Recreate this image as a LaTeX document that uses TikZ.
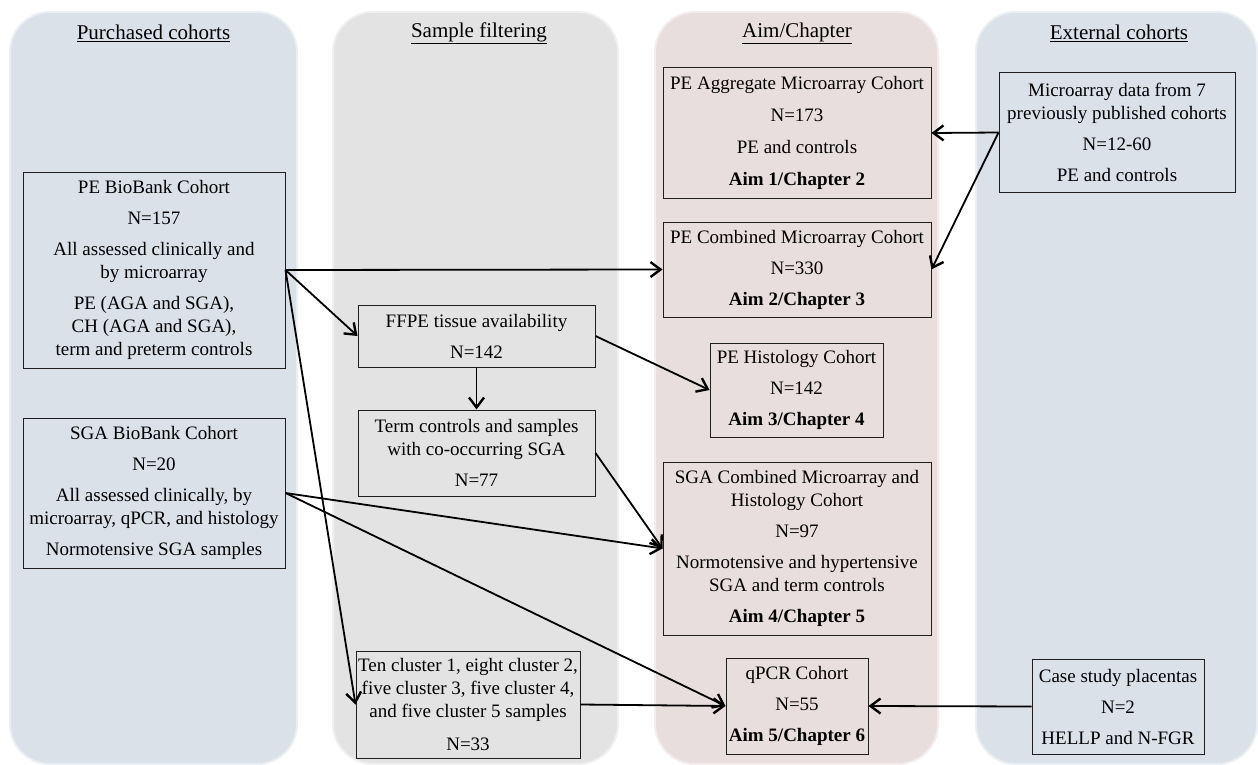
\documentclass[tikz,border=0pt]{standalone}
\usepackage{fontspec}
\setmainfont{Liberation Serif}
\usetikzlibrary{arrows.meta}
\definecolor{colblue}{RGB}{219,225,232}
\definecolor{colgrey}{RGB}{227,227,227}
\definecolor{colpink}{RGB}{233,222,222}
\definecolor{boxline}{RGB}{30,30,30}
\tikzset{
  lane/.style={fill=#1, draw=#1!55!white, line width=2pt, rounded corners=40pt},
  lanetitle/.style={font=\fontsize{21}{25}\selectfont, anchor=center},
  cohort/.style={draw=boxline, line width=1pt, inner sep=0pt, align=center,
    font=\fontsize{19}{23}\selectfont},
  flow/.style={line width=1.8pt,
    -{Straight Barb[length=10pt,width=15pt,line width=2.4pt]}},
}
\newcommand{\gap}{\\[8pt]}
\begin{document}
\begin{tikzpicture}[x=1pt,y=-1pt]
\useasboundingbox (0,0) rectangle (1258,765);
\fill[white] (0,0) rectangle (1258,765);

% column lanes
\path[lane=colblue] (10,12) rectangle (297,764);
\path[lane=colgrey] (333,12) rectangle (618,764);
\path[lane=colpink] (655,12) rectangle (938,764);
\path[lane=colblue] (976,12) rectangle (1257,764);

\node[lanetitle] (t1) at (153.5,33) {\underline{Purchased cohorts}};
\node[lanetitle] (t2) at (479,33) {\underline{Sample filtering}};
\node[lanetitle] (t3) at (797,33) {\underline{Aim/Chapter}};
\node[lanetitle] (t4) at (1119,33) {\underline{External cohorts}};

% purchased cohorts
\node[cohort, minimum width=262pt, minimum height=196pt] (pe) at (154,270)
  {PE BioBank Cohort\gap N=157\gap All assessed clinically and\\ by microarray\gap
   PE (AGA and SGA),\\ CH (AGA and SGA),\\ term and preterm controls};
\node[cohort, minimum width=262pt, minimum height=150pt] (sga) at (154,493)
  {SGA BioBank Cohort\gap N=20\gap All assessed clinically, by\\
   microarray, qPCR, and histology\gap Normotensive SGA samples};

% sample filtering
\node[cohort, minimum width=237pt, minimum height=62pt] (ffpe) at (476.5,336)
  {FFPE tissue availability\gap N=142};
\node[cohort, minimum width=237pt, minimum height=86pt] (term) at (476.5,453)
  {Term controls and samples\\ with co-occurring SGA\gap N=77};
\node[cohort, minimum width=224pt, minimum height=107pt] (ten) at (468,704.5)
  {Ten cluster 1, eight cluster 2,\\ five cluster 3, five cluster 4,\\
   and five cluster 5 samples\\[10pt] N=33};

% aims and chapters
\node[cohort, minimum width=268pt, minimum height=130pt] (peagg) at (797,133)
  {PE Aggregate Microarray Cohort\\[9pt] N=173\\[9pt] PE and controls\\[9pt]
   \textbf{Aim 1/Chapter 2}};
\node[cohort, minimum width=268pt, minimum height=95pt] (pecomb) at (797,269.5)
  {PE Combined Microarray Cohort\\[8pt] N=330\\[8pt] \textbf{Aim 2/Chapter 3}};
\node[cohort, minimum width=173pt, minimum height=94pt] (hist) at (796.5,390)
  {PE Histology Cohort\\[8pt] N=142\\[8pt] \textbf{Aim 3/Chapter 4}};
\node[cohort, minimum width=268pt, minimum height=173pt] (sgacomb) at (797,548.5)
  {SGA Combined Microarray and\\ Histology Cohort\gap N=97\gap
   Normotensive and hypertensive\\ SGA and term controls\gap
   \textbf{Aim 4/Chapter 5}};
\node[cohort, minimum width=142pt, minimum height=96pt] (qpcr) at (797,706)
  {qPCR Cohort\\[8pt] N=55\\[8pt] \textbf{Aim 5/Chapter 6}};

% external cohorts
\node[cohort, minimum width=236pt, minimum height=119pt] (micro) at (1117,132.5)
  {Microarray data from 7\\ previously published cohorts\gap N=12-60\gap
   PE and controls};
\node[cohort, minimum width=172pt, minimum height=95pt] (case) at (1118,706.5)
  {Case study placentas\\[8pt] N=2\\[8pt] HELLP and N-FGR};

% connectors
\draw[flow] (pe.east) -- (pecomb.west);
\draw[flow] (pe.east) -- (ffpe.west);
\draw[flow] (pe.east) -- (ten.west);
\draw[flow] (ffpe.south) -- (term.north);
\draw[flow] (ffpe.east) -- (hist.west);
\draw[flow] (term.east) -- (sgacomb.west);
\draw[flow] (sga.east) -- (sgacomb.west);
\draw[flow] (sga.east) -- (qpcr.west);
\draw[flow] (ten.east) -- (qpcr.west);
\draw[flow] (micro.west) -- (peagg.east);
\draw[flow] (micro.west) -- (pecomb.east);
\draw[flow] (case.west) -- (qpcr.east);
\end{tikzpicture}
\end{document}
